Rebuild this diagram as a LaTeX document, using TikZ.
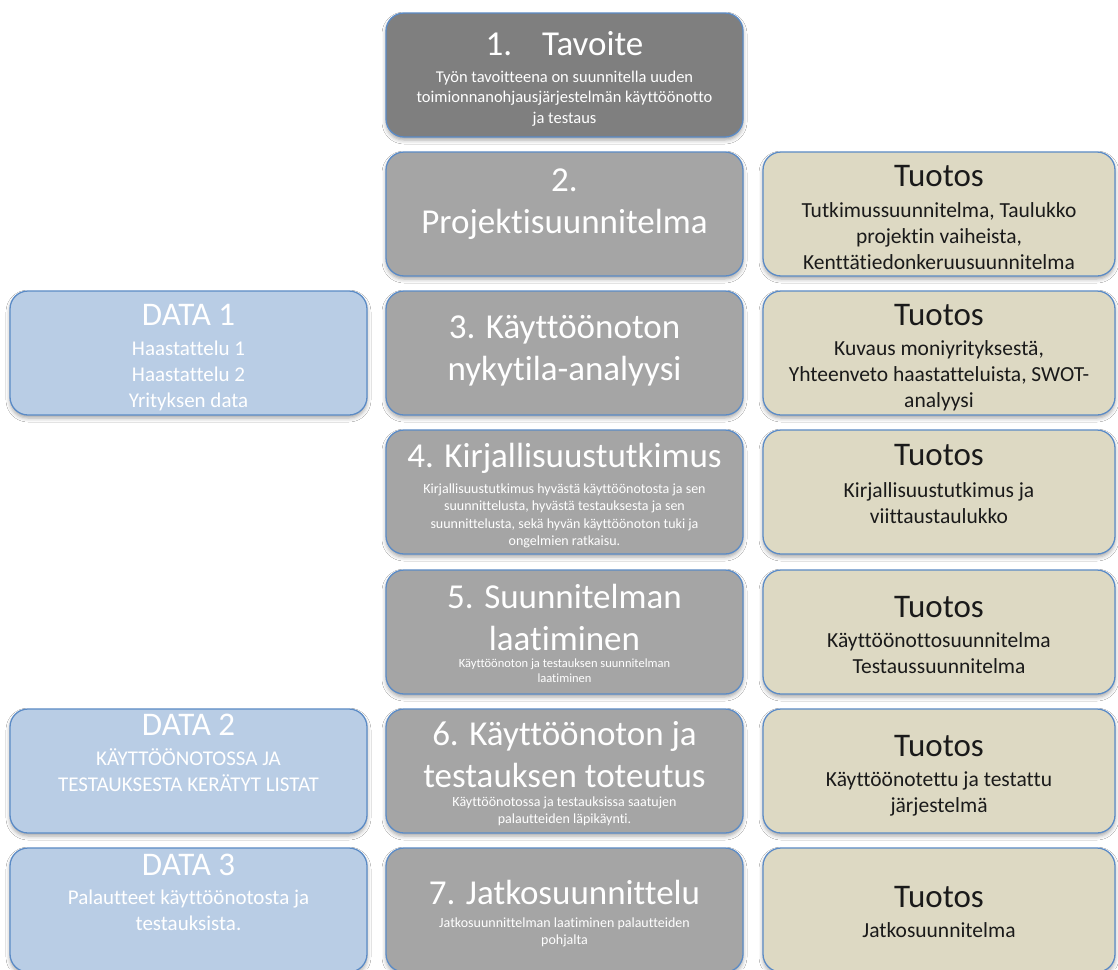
\documentclass[tikz,border=0pt]{standalone}
\usepackage{fontspec}
\setmainfont{Carlito}[Ligatures=NoCommon]
\usepackage{tikz}
\usetikzlibrary{shadows.blur}

\definecolor{cardedge}{HTML}{5B8BC6}
\definecolor{goalgray}{HTML}{7F7F7F}
\definecolor{stagegray}{HTML}{A5A5A5}
\definecolor{datablue}{HTML}{B9CDE5}
\definecolor{outbeige}{HTML}{DDD9C3}
\definecolor{outink}{HTML}{1A1A1A}

\tikzset{
  card/.style={draw=cardedge, line width=1.3pt, rounded corners=18pt, inner sep=0pt,
    minimum width=357pt, minimum height=124pt,
    blur shadow={shadow xshift=0pt, shadow yshift=-3pt, shadow blur radius=4pt, shadow opacity=35}},
  goalcard/.style={card, fill=goalgray},
  stagecard/.style={card, fill=stagegray},
  datacard/.style={card, fill=datablue},
  outcard/.style={card, fill=outbeige, minimum width=352pt},
  txt/.style={anchor=base, text width=350pt, align=flush center, inner sep=0pt},
  headtext/.style={txt, text=white, font=\fontsize{35}{42}\selectfont},
  goaltext/.style={txt, text=white, font=\fontsize{16.5}{20.5}\selectfont},
  stagetext/.style={txt, text=white, font=\fontsize{14}{17.5}\selectfont},
  tinytext/.style={txt, text=white, font=\fontsize{12.5}{15}\selectfont},
  datahead/.style={txt, text=white, font=\fontsize{33}{37}\selectfont},
  datatext/.style={txt, text=white, font=\fontsize{21}{26}\selectfont},
  outhead/.style={txt, text=outink, font=\fontsize{33}{37}\selectfont},
  outtext/.style={txt, text=outink, font=\fontsize{21.5}{26}\selectfont}
}

\begin{document}
\begin{tikzpicture}[x=1pt, y=-1pt]
    \fill[white] (0,0) rectangle (1118,969);
    \useasboundingbox (0,0) rectangle (1118,969);

    % Row 1: goal
    \node[goalcard] (g1) at (564.5,75) {};
    \node[headtext] (g1h) at (564.5,55) {1.\hspace{30pt}Tavoite};
    \node[goaltext] (g1b) at (564.5,82) {Työn tavoitteena on suunnitella uuden\\toimionnanohjausjärjestelmän käyttöönotto\\ja testaus};

    % Row 2: project plan
    \node[stagecard] (s2) at (564.5,214) {};
    \node[headtext] (s2h) at (564.5,191) {2.\\Projektisuunnitelma};
    \node[outcard] (o2) at (939,214) {};
    \node[outhead] (o2h) at (939,186) {Tuotos};
    \node[outtext] (o2b) at (939,217) {Tutkimussuunnitelma, Taulukko\\projektin vaiheista,\\Kenttätiedonkeruusuunnitelma};

    % Row 3: current state analysis
    \node[datacard] (d1) at (188.5,353) {};
    \node[datahead] (d1h) at (188.5,325) {DATA 1};
    \node[datatext] (d1b) at (188.5,355) {Haastattelu 1\\Haastattelu 2\\Yrityksen data};
    \node[stagecard] (s3) at (564.5,353) {};
    \node[headtext] (s3h) at (564.5,338) {3. Käyttöönoton\\nykytila-analyysi};
    \node[outcard] (o3) at (939,353) {};
    \node[outhead] (o3h) at (939,325) {Tuotos};
    \node[outtext] (o3b) at (939,355) {Kuvaus moniyrityksestä,\\Yhteenveto haastatteluista, SWOT-\\analyysi};

    % Row 4: literature
    \node[stagecard] (s4) at (564.5,492) {};
    \node[headtext] (s4h) at (564.5,467) {4. Kirjallisuustutkimus};
    \node[stagetext] (s4b) at (564.5,493) {Kirjallisuustutkimus hyvästä käyttöönotosta ja sen\\suunnittelusta, hyvästä testauksesta ja sen\\suunnittelusta, sekä hyvän käyttöönoton tuki ja\\ongelmien ratkaisu.};
    \node[outcard] (o4) at (939,492) {};
    \node[outhead] (o4h) at (939,465) {Tuotos};
    \node[outtext] (o4b) at (939,497) {Kirjallisuustutkimus ja\\viittaustaulukko};

    % Row 5: planning
    \node[stagecard] (s5) at (564.5,632) {};
    \node[headtext] (s5h) at (564.5,608) {5. Suunnitelman\\laatiminen};
    \node[tinytext] (s5b) at (564.5,667) {Käyttöönoton ja testauksen suunnitelman\\laatiminen};
    \node[outcard] (o5) at (939,632) {};
    \node[outhead] (o5h) at (939,617) {Tuotos};
    \node[outtext] (o5b) at (939,647) {Käyttöönottosuunnitelma\\Testaussuunnitelma};

    % Row 6: implementation
    \node[datacard] (d2) at (188.5,771) {};
    \node[datahead] (d2h) at (188.5,735) {DATA 2};
    \node[datatext] (d2b) at (188.5,765) {KÄYTTÖÖNOTOSSA JA\\TESTAUKSESTA KERÄTYT LISTAT};
    \node[stagecard] (s6) at (564.5,771) {};
    \node[headtext] (s6h) at (564.5,745) {6. Käyttöönoton ja\\testauksen toteutus};
    \node[stagetext] (s6b) at (564.5,806) {Käyttöönotossa ja testauksissa saatujen\\palautteiden läpikäynti.};
    \node[outcard] (o6) at (939,771) {};
    \node[outhead] (o6h) at (939,756) {Tuotos};
    \node[outtext] (o6b) at (939,786) {Käyttöönotettu ja testattu\\järjestelmä};

    % Row 7: follow-up
    \node[datacard] (d3) at (188.5,910) {};
    \node[datahead] (d3h) at (188.5,875) {DATA 3};
    \node[datatext] (d3b) at (188.5,904) {Palautteet käyttöönotosta ja\\testauksista.};
    \node[stagecard] (s7) at (564.5,910) {};
    \node[headtext] (s7h) at (564.5,904) {7. Jatkosuunnittelu};
    \node[stagetext] (s7b) at (564.5,927) {Jatkosuunnittelman laatiminen palautteiden\\pohjalta};
    \node[outcard] (o7) at (939,910) {};
    \node[outhead] (o7h) at (939,907) {Tuotos};
    \node[outtext] (o7b) at (939,937) {Jatkosuunnitelma};
\end{tikzpicture}
\end{document}
